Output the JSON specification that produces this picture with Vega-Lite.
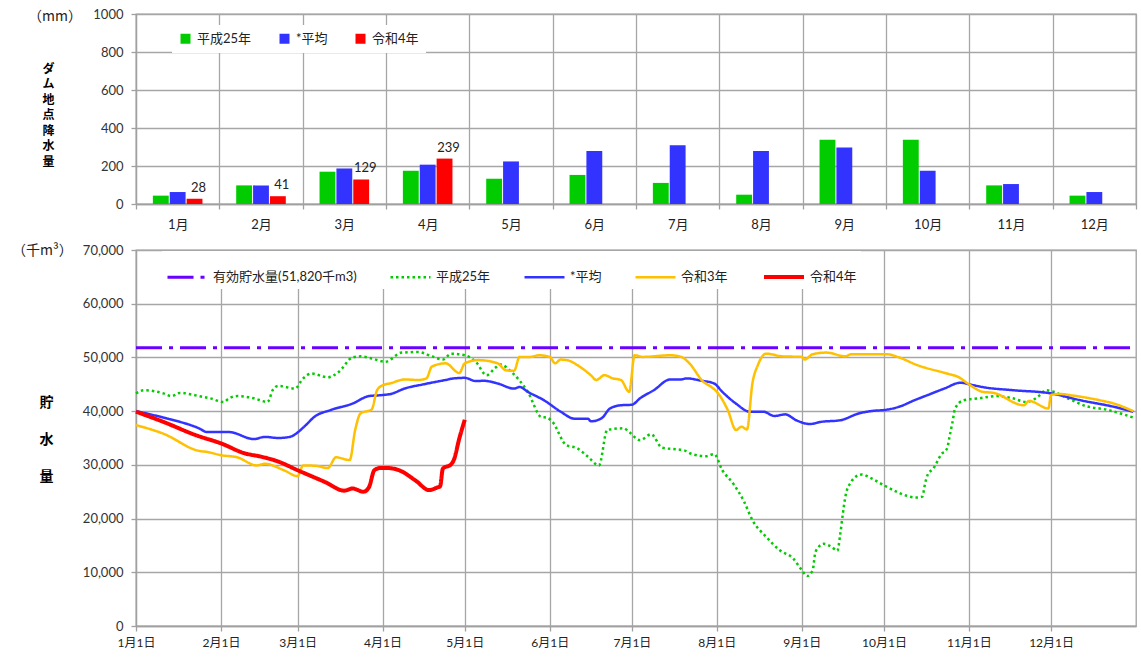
{
  "$schema": "https://vega.github.io/schema/vega-lite/v6.json",
  "padding": {"left": 11, "top": 7, "right": 3, "bottom": 5},
  "background": "white",
  "spacing": 11,
  "resolve": {
    "scale": {"color": "independent", "strokeDash": "independent", "strokeWidth": "independent", "y": "independent", "x": "independent"},
    "legend": {"color": "independent", "strokeDash": "independent", "strokeWidth": "independent"}
  },
  "config": {
    "font": "Lato, Noto Sans CJK JP",
    "view": {"stroke": "#A0A0A0", "strokeWidth": 1.3},
    "axis": {
      "gridColor": "#A6A6A6", "gridWidth": 1.3,
      "domainColor": "#A0A0A0", "domainWidth": 1.3,
      "tickColor": "#A0A0A0", "tickWidth": 1.3, "tickSize": 5,
      "labelColor": "#333333", "labelFontSize": 13, "labelFont": "Lato, Noto Sans CJK JP",
      "titleColor": "#000000", "titleFont": "Noto Sans CJK JP"
    },
    "legend": {"labelFont": "Lato, Noto Sans CJK JP", "labelColor": "#222222"},
    "title": {"font": "Noto Sans CJK JP", "color": "#222222", "fontWeight": "normal", "fontSize": 14}
  },
  "vconcat": [
    {
      "width": 1000,
      "height": 190,
      "title": {"text": "（mm）", "anchor": "start", "frame": "group", "dx": -108, "offset": -30, "baseline": "bottom"},
      "data": {
        "values": [
          {"month": "1月", "series": "平成25年", "value": 44},
          {"month": "1月", "series": "*平均", "value": 63},
          {"month": "1月", "series": "令和4年", "value": 28},
          {"month": "2月", "series": "平成25年", "value": 98},
          {"month": "2月", "series": "*平均", "value": 98},
          {"month": "2月", "series": "令和4年", "value": 41},
          {"month": "3月", "series": "平成25年", "value": 170},
          {"month": "3月", "series": "*平均", "value": 187},
          {"month": "3月", "series": "令和4年", "value": 129},
          {"month": "4月", "series": "平成25年", "value": 175},
          {"month": "4月", "series": "*平均", "value": 207},
          {"month": "4月", "series": "令和4年", "value": 239},
          {"month": "5月", "series": "平成25年", "value": 133},
          {"month": "5月", "series": "*平均", "value": 224},
          {"month": "6月", "series": "平成25年", "value": 153},
          {"month": "6月", "series": "*平均", "value": 279},
          {"month": "7月", "series": "平成25年", "value": 111},
          {"month": "7月", "series": "*平均", "value": 309},
          {"month": "8月", "series": "平成25年", "value": 49},
          {"month": "8月", "series": "*平均", "value": 279},
          {"month": "9月", "series": "平成25年", "value": 338},
          {"month": "9月", "series": "*平均", "value": 298},
          {"month": "10月", "series": "平成25年", "value": 338},
          {"month": "10月", "series": "*平均", "value": 175},
          {"month": "11月", "series": "平成25年", "value": 98},
          {"month": "11月", "series": "*平均", "value": 105},
          {"month": "12月", "series": "平成25年", "value": 44},
          {"month": "12月", "series": "*平均", "value": 63}
        ]
      },
      "encoding": {
        "x": {
          "field": "month", "type": "nominal",
          "sort": ["1月","2月","3月","4月","5月","6月","7月","8月","9月","10月","11月","12月"],
          "scale": {"paddingInner": 0, "paddingOuter": 0},
          "axis": {"title": null, "labelAngle": 0, "tickBand": "extent", "grid": true, "labelPadding": 9, "labelFontSize": 13, "labelColor": "#222222"}
        },
        "y": {
          "field": "value", "type": "quantitative",
          "scale": {"domain": [0, 1000]},
          "axis": {
            "values": [0, 200, 400, 600, 800, 1000], "labelExpr": "format(datum.value, 'd')", "labelPadding": 8,
            "title": ["ダ","ム","地","点","降","水","量"],
            "titleAngle": 0, "titleAlign": "center", "titleBaseline": "top",
            "titleX": -88, "titleY": 49, "titleFontSize": 12, "titleFontWeight": "bold", "titleLineHeight": 15.5
          }
        },
        "xOffset": {
          "field": "series", "type": "nominal",
          "scale": {"domain": ["平成25年", "*平均", "令和4年"], "paddingInner": 0.06, "paddingOuter": 1.4}
        }
      },
      "layer": [
        {
          "mark": {"type": "bar"},
          "encoding": {
            "color": {
              "field": "series", "type": "nominal",
              "scale": {"domain": ["平成25年", "*平均", "令和4年"], "range": ["#00CC00", "#3333FF", "#FF0000"]},
              "legend": {
                "title": null, "orient": "none", "direction": "horizontal",
                "legendX": 36, "legendY": 11,
                "fillColor": "white", "padding": 7,
                "symbolType": "square", "symbolSize": 100, "symbolStrokeWidth": 0,
                "labelFontSize": 13, "labelOffset": 5, "columnPadding": 26
              }
            }
          }
        },
        {
          "transform": [{"filter": "datum.series === '令和4年'"}],
          "mark": {"type": "text", "baseline": "bottom", "dy": -4, "dx": 4, "fontSize": 13, "color": "#222222"},
          "encoding": {"text": {"field": "value", "type": "quantitative"}}
        }
      ]
    },
    {
      "width": 1000,
      "height": 376,
      "title": {"text": "（千m³）", "anchor": "start", "frame": "group", "dx": -124, "offset": -28, "baseline": "bottom"},
      "data": {
        "values": [
          {"date": "2022-01-01", "series": "有効貯水量(51,820千m3)", "value": 51820},
          {"date": "2022-12-31T23:59:00Z", "series": "有効貯水量(51,820千m3)", "value": 51820},

          {"date": "2022-01-01", "series": "平成25年", "value": 43300},
          {"date": "2022-01-04", "series": "平成25年", "value": 43900},
          {"date": "2022-01-11", "series": "平成25年", "value": 43300},
          {"date": "2022-01-14", "series": "平成25年", "value": 42800},
          {"date": "2022-01-17", "series": "平成25年", "value": 43400},
          {"date": "2022-01-24", "series": "平成25年", "value": 42800},
          {"date": "2022-01-28", "series": "平成25年", "value": 42400},
          {"date": "2022-02-02", "series": "平成25年", "value": 41700},
          {"date": "2022-02-04", "series": "平成25年", "value": 42400},
          {"date": "2022-02-07", "series": "平成25年", "value": 42800},
          {"date": "2022-02-13", "series": "平成25年", "value": 42400},
          {"date": "2022-02-18", "series": "平成25年", "value": 41700},
          {"date": "2022-02-20", "series": "平成25年", "value": 44000},
          {"date": "2022-02-22", "series": "平成25年", "value": 44700},
          {"date": "2022-02-28", "series": "平成25年", "value": 44200},
          {"date": "2022-03-03", "series": "平成25年", "value": 46100},
          {"date": "2022-03-06", "series": "平成25年", "value": 47000},
          {"date": "2022-03-12", "series": "平成25年", "value": 46300},
          {"date": "2022-03-16", "series": "平成25年", "value": 47300},
          {"date": "2022-03-21", "series": "平成25年", "value": 50000},
          {"date": "2022-03-24", "series": "平成25年", "value": 50200},
          {"date": "2022-03-28", "series": "平成25年", "value": 49800},
          {"date": "2022-04-02", "series": "平成25年", "value": 49200},
          {"date": "2022-04-08", "series": "平成25年", "value": 50900},
          {"date": "2022-04-14", "series": "平成25年", "value": 51000},
          {"date": "2022-04-19", "series": "平成25年", "value": 50200},
          {"date": "2022-04-23", "series": "平成25年", "value": 49600},
          {"date": "2022-04-26", "series": "平成25年", "value": 50700},
          {"date": "2022-05-01", "series": "平成25年", "value": 50400},
          {"date": "2022-05-05", "series": "平成25年", "value": 49200},
          {"date": "2022-05-09", "series": "平成25年", "value": 46700},
          {"date": "2022-05-12", "series": "平成25年", "value": 48000},
          {"date": "2022-05-14", "series": "平成25年", "value": 48700},
          {"date": "2022-05-18", "series": "平成25年", "value": 47300},
          {"date": "2022-05-24", "series": "平成25年", "value": 43600},
          {"date": "2022-05-29", "series": "平成25年", "value": 38900},
          {"date": "2022-05-31", "series": "平成25年", "value": 38800},
          {"date": "2022-06-02", "series": "平成25年", "value": 38000},
          {"date": "2022-06-07", "series": "平成25年", "value": 33700},
          {"date": "2022-06-11", "series": "平成25年", "value": 33100},
          {"date": "2022-06-15", "series": "平成25年", "value": 31500},
          {"date": "2022-06-19", "series": "平成25年", "value": 29900},
          {"date": "2022-06-22", "series": "平成25年", "value": 36500},
          {"date": "2022-06-28", "series": "平成25年", "value": 36800},
          {"date": "2022-06-30", "series": "平成25年", "value": 36100},
          {"date": "2022-07-04", "series": "平成25年", "value": 34600},
          {"date": "2022-07-08", "series": "平成25年", "value": 35700},
          {"date": "2022-07-12", "series": "平成25年", "value": 33200},
          {"date": "2022-07-20", "series": "平成25年", "value": 32700},
          {"date": "2022-07-23", "series": "平成25年", "value": 32000},
          {"date": "2022-07-28", "series": "平成25年", "value": 31600},
          {"date": "2022-07-31", "series": "平成25年", "value": 32000},
          {"date": "2022-08-03", "series": "平成25年", "value": 29000},
          {"date": "2022-08-07", "series": "平成25年", "value": 26500},
          {"date": "2022-08-11", "series": "平成25年", "value": 23100},
          {"date": "2022-08-14", "series": "平成25年", "value": 19700},
          {"date": "2022-08-19", "series": "平成25年", "value": 16600},
          {"date": "2022-08-24", "series": "平成25年", "value": 14100},
          {"date": "2022-08-29", "series": "平成25年", "value": 12500},
          {"date": "2022-09-01", "series": "平成25年", "value": 10400},
          {"date": "2022-09-03", "series": "平成25年", "value": 9300},
          {"date": "2022-09-05", "series": "平成25年", "value": 10400},
          {"date": "2022-09-06", "series": "平成25年", "value": 13800},
          {"date": "2022-09-09", "series": "平成25年", "value": 15300},
          {"date": "2022-09-12", "series": "平成25年", "value": 14700},
          {"date": "2022-09-14", "series": "平成25年", "value": 14000},
          {"date": "2022-09-15", "series": "平成25年", "value": 16900},
          {"date": "2022-09-16", "series": "平成25年", "value": 20900},
          {"date": "2022-09-17", "series": "平成25年", "value": 24300},
          {"date": "2022-09-19", "series": "平成25年", "value": 26800},
          {"date": "2022-09-21", "series": "平成25年", "value": 27900},
          {"date": "2022-09-23", "series": "平成25年", "value": 28200},
          {"date": "2022-09-26", "series": "平成25年", "value": 27600},
          {"date": "2022-10-01", "series": "平成25年", "value": 26200},
          {"date": "2022-10-06", "series": "平成25年", "value": 24900},
          {"date": "2022-10-09", "series": "平成25年", "value": 24300},
          {"date": "2022-10-13", "series": "平成25年", "value": 23900},
          {"date": "2022-10-15", "series": "平成25年", "value": 24100},
          {"date": "2022-10-16", "series": "平成25年", "value": 26500},
          {"date": "2022-10-17", "series": "平成25年", "value": 28200},
          {"date": "2022-10-19", "series": "平成25年", "value": 29300},
          {"date": "2022-10-22", "series": "平成25年", "value": 32000},
          {"date": "2022-10-24", "series": "平成25年", "value": 33000},
          {"date": "2022-10-25", "series": "平成25年", "value": 35400},
          {"date": "2022-10-26", "series": "平成25年", "value": 37900},
          {"date": "2022-10-27", "series": "平成25年", "value": 40500},
          {"date": "2022-10-30", "series": "平成25年", "value": 42000},
          {"date": "2022-11-05", "series": "平成25年", "value": 42400},
          {"date": "2022-11-11", "series": "平成25年", "value": 42800},
          {"date": "2022-11-17", "series": "平成25年", "value": 42400},
          {"date": "2022-11-22", "series": "平成25年", "value": 41700},
          {"date": "2022-11-24", "series": "平成25年", "value": 42000},
          {"date": "2022-11-27", "series": "平成25年", "value": 43000},
          {"date": "2022-11-29", "series": "平成25年", "value": 43900},
          {"date": "2022-12-02", "series": "平成25年", "value": 43600},
          {"date": "2022-12-07", "series": "平成25年", "value": 42400},
          {"date": "2022-12-14", "series": "平成25年", "value": 40900},
          {"date": "2022-12-21", "series": "平成25年", "value": 40300},
          {"date": "2022-12-31", "series": "平成25年", "value": 38800},

          {"date": "2022-01-01", "series": "*平均", "value": 40000},
          {"date": "2022-01-11", "series": "*平均", "value": 38800},
          {"date": "2022-01-24", "series": "*平均", "value": 36800},
          {"date": "2022-01-27", "series": "*平均", "value": 36100},
          {"date": "2022-02-04", "series": "*平均", "value": 36100},
          {"date": "2022-02-13", "series": "*平均", "value": 34800},
          {"date": "2022-02-17", "series": "*平均", "value": 35200},
          {"date": "2022-02-22", "series": "*平均", "value": 35000},
          {"date": "2022-02-26", "series": "*平均", "value": 35200},
          {"date": "2022-03-04", "series": "*平均", "value": 37400},
          {"date": "2022-03-07", "series": "*平均", "value": 38900},
          {"date": "2022-03-13", "series": "*平均", "value": 40200},
          {"date": "2022-03-21", "series": "*平均", "value": 41400},
          {"date": "2022-03-27", "series": "*平均", "value": 42800},
          {"date": "2022-04-01", "series": "*平均", "value": 43000},
          {"date": "2022-04-04", "series": "*平均", "value": 43200},
          {"date": "2022-04-09", "series": "*平均", "value": 44200},
          {"date": "2022-04-16", "series": "*平均", "value": 45000},
          {"date": "2022-04-24", "series": "*平均", "value": 45800},
          {"date": "2022-04-27", "series": "*平均", "value": 46100},
          {"date": "2022-05-01", "series": "*平均", "value": 46200},
          {"date": "2022-05-05", "series": "*平均", "value": 45600},
          {"date": "2022-05-08", "series": "*平均", "value": 45650},
          {"date": "2022-05-13", "series": "*平均", "value": 45150},
          {"date": "2022-05-19", "series": "*平均", "value": 44200},
          {"date": "2022-05-21", "series": "*平均", "value": 44500},
          {"date": "2022-05-24", "series": "*平均", "value": 43600},
          {"date": "2022-05-30", "series": "*平均", "value": 42000},
          {"date": "2022-06-05", "series": "*平均", "value": 39900},
          {"date": "2022-06-10", "series": "*平均", "value": 38600},
          {"date": "2022-06-15", "series": "*平均", "value": 38600},
          {"date": "2022-06-16", "series": "*平均", "value": 38100},
          {"date": "2022-06-20", "series": "*平均", "value": 38700},
          {"date": "2022-06-23", "series": "*平均", "value": 40500},
          {"date": "2022-06-27", "series": "*平均", "value": 41100},
          {"date": "2022-07-01", "series": "*平均", "value": 41200},
          {"date": "2022-07-04", "series": "*平均", "value": 42400},
          {"date": "2022-07-09", "series": "*平均", "value": 43900},
          {"date": "2022-07-15", "series": "*平均", "value": 45900},
          {"date": "2022-07-19", "series": "*平均", "value": 45900},
          {"date": "2022-07-21", "series": "*平均", "value": 46100},
          {"date": "2022-07-26", "series": "*平均", "value": 45700},
          {"date": "2022-07-31", "series": "*平均", "value": 45150},
          {"date": "2022-08-03", "series": "*平均", "value": 43600},
          {"date": "2022-08-08", "series": "*平均", "value": 41400},
          {"date": "2022-08-13", "series": "*平均", "value": 39900},
          {"date": "2022-08-18", "series": "*平均", "value": 39900},
          {"date": "2022-08-22", "series": "*平均", "value": 39100},
          {"date": "2022-08-26", "series": "*平均", "value": 39400},
          {"date": "2022-08-30", "series": "*平均", "value": 38300},
          {"date": "2022-09-04", "series": "*平均", "value": 37600},
          {"date": "2022-09-08", "series": "*平均", "value": 38000},
          {"date": "2022-09-15", "series": "*平均", "value": 38300},
          {"date": "2022-09-22", "series": "*平均", "value": 39600},
          {"date": "2022-09-28", "series": "*平均", "value": 40100},
          {"date": "2022-10-01", "series": "*平均", "value": 40200},
          {"date": "2022-10-07", "series": "*平均", "value": 40900},
          {"date": "2022-10-12", "series": "*平均", "value": 42000},
          {"date": "2022-10-17", "series": "*平均", "value": 43000},
          {"date": "2022-10-23", "series": "*平均", "value": 44200},
          {"date": "2022-10-29", "series": "*平均", "value": 45300},
          {"date": "2022-11-01", "series": "*平均", "value": 45000},
          {"date": "2022-11-07", "series": "*平均", "value": 44400},
          {"date": "2022-11-17", "series": "*平均", "value": 43900},
          {"date": "2022-12-01", "series": "*平均", "value": 43300},
          {"date": "2022-12-12", "series": "*平均", "value": 42000},
          {"date": "2022-12-24", "series": "*平均", "value": 40800},
          {"date": "2022-12-31", "series": "*平均", "value": 39900},

          {"date": "2022-01-01", "series": "令和3年", "value": 37400},
          {"date": "2022-01-11", "series": "令和3年", "value": 35800},
          {"date": "2022-01-24", "series": "令和3年", "value": 32600},
          {"date": "2022-01-27", "series": "令和3年", "value": 32400},
          {"date": "2022-02-01", "series": "令和3年", "value": 31800},
          {"date": "2022-02-07", "series": "令和3年", "value": 31400},
          {"date": "2022-02-14", "series": "令和3年", "value": 29900},
          {"date": "2022-02-17", "series": "令和3年", "value": 30200},
          {"date": "2022-02-24", "series": "令和3年", "value": 29000},
          {"date": "2022-03-01", "series": "令和3年", "value": 27900},
          {"date": "2022-03-03", "series": "令和3年", "value": 29900},
          {"date": "2022-03-08", "series": "令和3年", "value": 29800},
          {"date": "2022-03-12", "series": "令和3年", "value": 29400},
          {"date": "2022-03-15", "series": "令和3年", "value": 31400},
          {"date": "2022-03-20", "series": "令和3年", "value": 30900},
          {"date": "2022-03-22", "series": "令和3年", "value": 36500},
          {"date": "2022-03-24", "series": "令和3年", "value": 39600},
          {"date": "2022-03-28", "series": "令和3年", "value": 40300},
          {"date": "2022-03-30", "series": "令和3年", "value": 43900},
          {"date": "2022-04-01", "series": "令和3年", "value": 44800},
          {"date": "2022-04-04", "series": "令和3年", "value": 45200},
          {"date": "2022-04-09", "series": "令和3年", "value": 45900},
          {"date": "2022-04-14", "series": "令和3年", "value": 45800},
          {"date": "2022-04-17", "series": "令和3年", "value": 46100},
          {"date": "2022-04-19", "series": "令和3年", "value": 48300},
          {"date": "2022-04-24", "series": "令和3年", "value": 48900},
          {"date": "2022-04-29", "series": "令和3年", "value": 47100},
          {"date": "2022-05-01", "series": "令和3年", "value": 48900},
          {"date": "2022-05-06", "series": "令和3年", "value": 49500},
          {"date": "2022-05-13", "series": "令和3年", "value": 48900},
          {"date": "2022-05-16", "series": "令和3年", "value": 47600},
          {"date": "2022-05-19", "series": "令和3年", "value": 47500},
          {"date": "2022-05-21", "series": "令和3年", "value": 50100},
          {"date": "2022-05-25", "series": "令和3年", "value": 50100},
          {"date": "2022-05-28", "series": "令和3年", "value": 50400},
          {"date": "2022-06-01", "series": "令和3年", "value": 50100},
          {"date": "2022-06-03", "series": "令和3年", "value": 48900},
          {"date": "2022-06-05", "series": "令和3年", "value": 49600},
          {"date": "2022-06-08", "series": "令和3年", "value": 49400},
          {"date": "2022-06-11", "series": "令和3年", "value": 48600},
          {"date": "2022-06-16", "series": "令和3年", "value": 46700},
          {"date": "2022-06-18", "series": "令和3年", "value": 45800},
          {"date": "2022-06-21", "series": "令和3年", "value": 46700},
          {"date": "2022-06-24", "series": "令和3年", "value": 46100},
          {"date": "2022-06-27", "series": "令和3年", "value": 45800},
          {"date": "2022-06-30", "series": "令和3年", "value": 43600},
          {"date": "2022-07-02", "series": "令和3年", "value": 50400},
          {"date": "2022-07-05", "series": "令和3年", "value": 50100},
          {"date": "2022-07-15", "series": "令和3年", "value": 50400},
          {"date": "2022-07-19", "series": "令和3年", "value": 50100},
          {"date": "2022-07-22", "series": "令和3年", "value": 48900},
          {"date": "2022-07-27", "series": "令和3年", "value": 45500},
          {"date": "2022-07-30", "series": "令和3年", "value": 44500},
          {"date": "2022-08-01", "series": "令和3年", "value": 43600},
          {"date": "2022-08-05", "series": "令和3年", "value": 40200},
          {"date": "2022-08-08", "series": "令和3年", "value": 36500},
          {"date": "2022-08-10", "series": "令和3年", "value": 37100},
          {"date": "2022-08-12", "series": "令和3年", "value": 36600},
          {"date": "2022-08-14", "series": "令和3年", "value": 45200},
          {"date": "2022-08-16", "series": "令和3年", "value": 48600},
          {"date": "2022-08-19", "series": "令和3年", "value": 50700},
          {"date": "2022-08-25", "series": "令和3年", "value": 50200},
          {"date": "2022-09-01", "series": "令和3年", "value": 50100},
          {"date": "2022-09-02", "series": "令和3年", "value": 49600},
          {"date": "2022-09-05", "series": "令和3年", "value": 50600},
          {"date": "2022-09-10", "series": "令和3年", "value": 50900},
          {"date": "2022-09-17", "series": "令和3年", "value": 50200},
          {"date": "2022-09-19", "series": "令和3年", "value": 50600},
          {"date": "2022-09-28", "series": "令和3年", "value": 50600},
          {"date": "2022-10-02", "series": "令和3年", "value": 50600},
          {"date": "2022-10-06", "series": "令和3年", "value": 50100},
          {"date": "2022-10-13", "series": "令和3年", "value": 48600},
          {"date": "2022-10-24", "series": "令和3年", "value": 47000},
          {"date": "2022-10-28", "series": "令和3年", "value": 46400},
          {"date": "2022-11-01", "series": "令和3年", "value": 45000},
          {"date": "2022-11-06", "series": "令和3年", "value": 43600},
          {"date": "2022-11-10", "series": "令和3年", "value": 43400},
          {"date": "2022-11-21", "series": "令和3年", "value": 41100},
          {"date": "2022-11-23", "series": "令和3年", "value": 41900},
          {"date": "2022-11-30", "series": "令和3年", "value": 40500},
          {"date": "2022-12-01", "series": "令和3年", "value": 43000},
          {"date": "2022-12-04", "series": "令和3年", "value": 43200},
          {"date": "2022-12-09", "series": "令和3年", "value": 42900},
          {"date": "2022-12-19", "series": "令和3年", "value": 42000},
          {"date": "2022-12-24", "series": "令和3年", "value": 41400},
          {"date": "2022-12-31", "series": "令和3年", "value": 40000},

          {"date": "2022-01-01", "series": "令和4年", "value": 39900},
          {"date": "2022-01-11", "series": "令和4年", "value": 38000},
          {"date": "2022-01-23", "series": "令和4年", "value": 35500},
          {"date": "2022-02-01", "series": "令和4年", "value": 34000},
          {"date": "2022-02-10", "series": "令和4年", "value": 32100},
          {"date": "2022-02-15", "series": "令和4年", "value": 31600},
          {"date": "2022-02-22", "series": "令和4年", "value": 30600},
          {"date": "2022-03-01", "series": "令和4年", "value": 29000},
          {"date": "2022-03-11", "series": "令和4年", "value": 26800},
          {"date": "2022-03-18", "series": "令和4年", "value": 25200},
          {"date": "2022-03-21", "series": "令和4年", "value": 25600},
          {"date": "2022-03-25", "series": "令和4年", "value": 25000},
          {"date": "2022-03-27", "series": "令和4年", "value": 25800},
          {"date": "2022-03-29", "series": "令和4年", "value": 29000},
          {"date": "2022-03-31", "series": "令和4年", "value": 29400},
          {"date": "2022-04-03", "series": "令和4年", "value": 29400},
          {"date": "2022-04-07", "series": "令和4年", "value": 29000},
          {"date": "2022-04-13", "series": "令和4年", "value": 27100},
          {"date": "2022-04-18", "series": "令和4年", "value": 25300},
          {"date": "2022-04-21", "series": "令和4年", "value": 25800},
          {"date": "2022-04-22", "series": "令和4年", "value": 26000},
          {"date": "2022-04-23", "series": "令和4年", "value": 29300},
          {"date": "2022-04-26", "series": "令和4年", "value": 30100},
          {"date": "2022-04-27", "series": "令和4年", "value": 30900},
          {"date": "2022-04-29", "series": "令和4年", "value": 34900},
          {"date": "2022-05-01", "series": "令和4年", "value": 38400}
        ]
      },
      "mark": {"type": "line", "interpolate": "monotone"},
      "encoding": {
        "x": {
          "field": "date", "type": "temporal",
          "scale": {"type": "utc", "domain": [{"year": 2022, "month": 1, "date": 1, "utc": true}, {"year": 2022, "month": 12, "date": 31, "hours": 23, "minutes": 59, "utc": true}]},
          "axis": {
            "title": null, "grid": true, "tickCount": {"interval": "month", "step": 1},
            "labelExpr": "utcFormat(datum.value, '%-m月%-d日')", "labelFontSize": 12, "labelPadding": 6, "labelColor": "#222222", "labelFlush": false
          }
        },
        "y": {
          "field": "value", "type": "quantitative",
          "scale": {"domain": [0, 70000]},
          "axis": {
            "values": [0, 10000, 20000, 30000, 40000, 50000, 60000, 70000], "labelExpr": "format(datum.value, ',')", "labelPadding": 8,
            "title": ["貯", "水", "量"],
            "titleAngle": 0, "titleAlign": "center", "titleBaseline": "top",
            "titleX": -90, "titleY": 145, "titleFontSize": 14, "titleFontWeight": "bold", "titleLineHeight": 37
          }
        },
        "color": {
          "field": "series", "type": "nominal",
          "scale": {"domain": ["有効貯水量(51,820千m3)", "平成25年", "*平均", "令和3年", "令和4年"], "range": ["#6A00FF", "#00CC00", "#3333FF", "#FFC000", "#FF0000"]},
          "legend": {
            "title": null, "orient": "none", "direction": "horizontal",
            "legendX": 26, "legendY": 1,
            "fillColor": "white", "padding": 4,
            "symbolType": "stroke", "symbolSize": 1600,
            "labelFontSize": 13, "labelOffset": 4, "columnPadding": 28
          }
        },
        "strokeDash": {
          "field": "series", "type": "nominal",
          "scale": {"domain": ["有効貯水量(51,820千m3)", "平成25年", "*平均", "令和3年", "令和4年"], "range": [[26, 7, 4, 7], [2.5, 3], [1, 0], [1, 0], [1, 0]]}
        },
        "strokeWidth": {
          "field": "series", "type": "nominal",
          "scale": {"type": "ordinal", "domain": ["有効貯水量(51,820千m3)", "平成25年", "*平均", "令和3年", "令和4年"], "range": [3, 2.5, 2.5, 2.5, 4]}
        }
      }
    }
  ]
}
